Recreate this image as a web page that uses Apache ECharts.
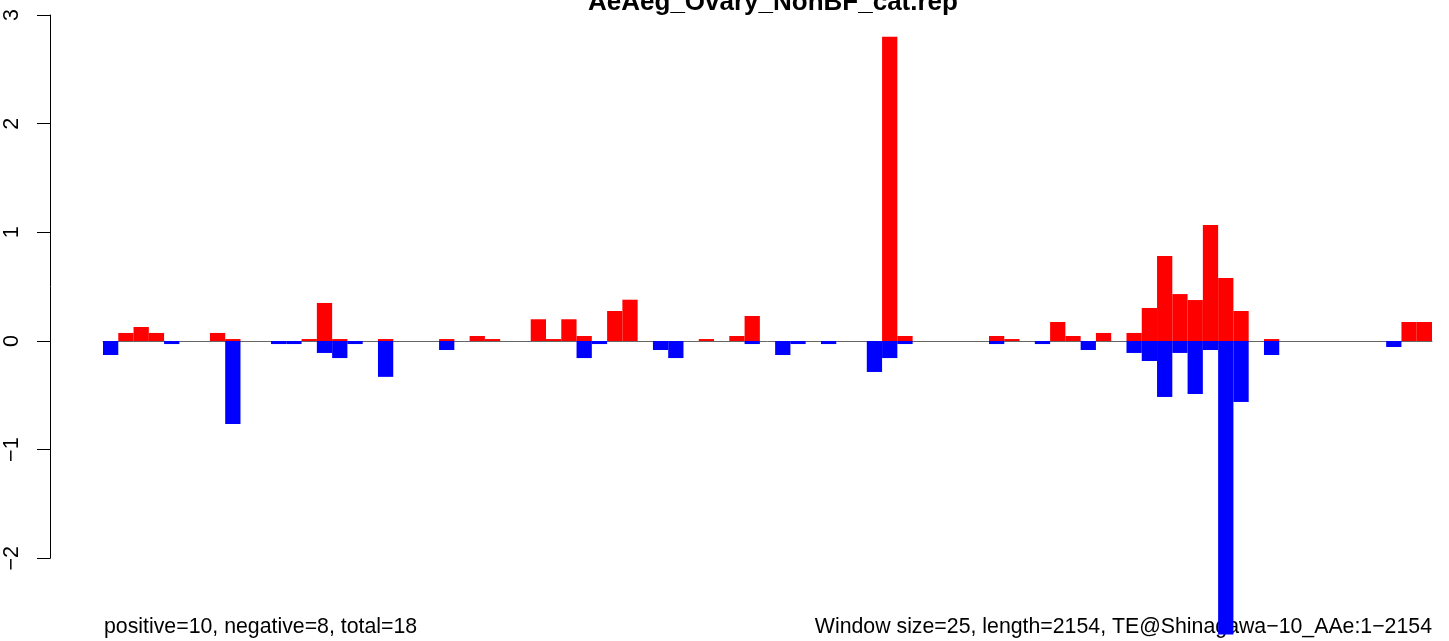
<!DOCTYPE html>
<html>
<head>
<meta charset="utf-8">
<script src="https://cdn.jsdelivr.net/npm/echarts@6/dist/echarts.min.js"></script>
<style>
  html, body { margin: 0; padding: 0; background: #fff; }
  #main { width: 1449px; height: 641px; }
</style>
</head>
<body>
<div id="main"></div>
<script>
// window bins along the element (87 windows of 25 bp over 2154 bp)
const binCount = 87;
const bins = [];
for (let i = 1; i <= binCount; i++) bins.push(i);

// red: positive score per window (index -> value)
const positiveBins = {
  1: 0.074, 2: 0.129, 3: 0.074, 7: 0.074, 8: 0.018, 13: 0.018, 14: 0.35, 15: 0.018,
  18: 0.018, 22: 0.018, 24: 0.046, 25: 0.018, 28: 0.2, 29: 0.018, 30: 0.2, 31: 0.046,
  33: 0.276, 34: 0.38, 39: 0.018, 41: 0.046, 42: 0.23, 51: 2.8, 52: 0.046,
  58: 0.046, 59: 0.018, 62: 0.175, 63: 0.046, 65: 0.074, 67: 0.074, 68: 0.304,
  69: 0.782, 70: 0.432, 71: 0.377, 72: 1.067, 73: 0.58, 74: 0.276, 76: 0.018,
  85: 0.175, 86: 0.175
};

// blue: negative score per window
const negativeBins = {
  0: -0.129, 4: -0.028, 8: -0.764, 11: -0.028, 12: -0.028, 14: -0.11, 15: -0.157,
  16: -0.028, 18: -0.33, 22: -0.083, 31: -0.157, 32: -0.028, 36: -0.083, 37: -0.157,
  42: -0.028, 44: -0.129, 45: -0.028, 47: -0.028, 50: -0.285, 51: -0.157, 52: -0.028,
  58: -0.028, 61: -0.028, 64: -0.083, 67: -0.11, 68: -0.184, 69: -0.515, 70: -0.11,
  71: -0.488, 72: -0.083, 73: -2.7, 74: -0.561, 76: -0.129, 84: -0.055
};

const yTicks = [-2, -1, 0, 1, 2, 3];

const mainTitle = 'AeAeg_Ovary_NonBF_cat.rep';
const leftNote = 'positive=10, negative=8, total=18';
const rightNote = 'Window size=25, length=2154, TE@Shinagawa\u221210_AAe:1\u22122154';

const posData = bins.map((b, i) => (positiveBins[i] !== undefined ? positiveBins[i] : null));
const negData = bins.map((b, i) => (negativeBins[i] !== undefined ? negativeBins[i] : null));

const font = 'Liberation Sans, Arial, Helvetica, sans-serif';

const chart = echarts.init(document.getElementById('main'));

chart.setOption({
  animation: false,
  backgroundColor: '#ffffff',
  title: [
    {
      text: mainTitle,
      left: 773, top: -10, padding: 0, textAlign: 'center',
      textStyle: { fontFamily: font, fontSize: 26, fontWeight: 'bold', color: '#000' }
    },
    {
      text: leftNote,
      left: 104, top: 617, padding: 0,
      textStyle: { fontFamily: font, fontSize: 21.3, fontWeight: 'normal', color: '#000' }
    },
    {
      text: rightNote,
      right: 17, top: 617, padding: 0,
      textStyle: { fontFamily: font, fontSize: 21.3, fontWeight: 'normal', color: '#000' }
    }
  ],
  grid: [
    // bars: zero sits at y=341, 108.67 px per unit
    { left: 103, width: 1329, top: 15, height: 652, containLabel: false, outerBoundsMode: 'none' },
    // y axis only (drawn from -2 to 3 like R)
    { left: 50, width: 10, top: 15, height: 543.3, containLabel: false, outerBoundsMode: 'none' }
  ],
  xAxis: [
    {
      type: 'category', gridIndex: 0, data: bins, boundaryGap: true,
      axisLine: { show: true, onZero: true, lineStyle: { color: '#666', width: 1 } },
      axisTick: { show: false }, axisLabel: { show: false }, splitLine: { show: false }
    },
    { type: 'value', gridIndex: 1, show: false }
  ],
  yAxis: [
    { type: 'value', gridIndex: 0, min: -3, max: 3, show: false, splitLine: { show: false } },
    {
      type: 'value', gridIndex: 1, min: yTicks[0], max: yTicks[yTicks.length - 1], interval: 1,
      axisLine: { show: true, lineStyle: { color: '#000', width: 1 } },
      axisTick: { show: true, length: 13, lineStyle: { color: '#000', width: 1 } },
      axisLabel: {
        rotate: 90, margin: 27, fontSize: 21.5, fontFamily: font, color: '#000',
        formatter: (v) => String(v).replace('-', '\u2212')
      },
      splitLine: { show: false }
    }
  ],
  series: [
    {
      name: 'positive', type: 'bar', xAxisIndex: 0, yAxisIndex: 0,
      data: posData, barWidth: '100%', barGap: '-100%', barCategoryGap: '0%',
      itemStyle: { color: '#ff0000' }, z: 10, silent: true
    },
    {
      name: 'negative', type: 'bar', xAxisIndex: 0, yAxisIndex: 0,
      data: negData, barWidth: '100%', barGap: '-100%', barCategoryGap: '0%',
      itemStyle: { color: '#0000ff' }, z: 10, silent: true
    }
  ]
});
</script>
</body>
</html>
